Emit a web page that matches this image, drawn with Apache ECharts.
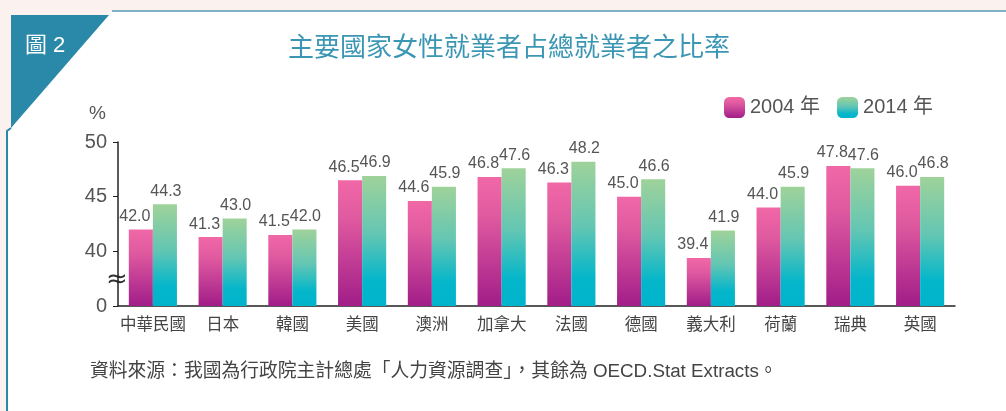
<!DOCTYPE html>
<html>
<head>
<meta charset="utf-8">
<script src="https://cdn.jsdelivr.net/npm/echarts@6/dist/echarts.min.js"></script>
<style>
  html, body { margin: 0; padding: 0; background: #fbf1ee; }
  #chart { width: 1006px; height: 411px; }
</style>
</head>
<body>
<div id="chart"></div>
<script>
const countries = ['中華民國', '日本', '韓國', '美國', '澳洲', '加拿大', '法國', '德國', '義大利', '荷蘭', '瑞典', '英國']
const rate2004 = [42.0, 41.3, 41.5, 46.5, 44.6, 46.8, 46.3, 45.0, 39.4, 44.0, 47.8, 46.0]
const rate2014 = [44.3, 43.0, 42.0, 46.9, 45.9, 47.6, 48.2, 46.6, 41.9, 45.9, 47.6, 46.8]
// 35 is drawn as the broken-axis "0"
const yTicks = [35, 40, 45, 50]
const yTickText = ['0', '40', '45', '50']

const latin = "'Liberation Sans', 'Noto Sans CJK TC', sans-serif"
const cjk = "'Noto Sans CJK TC', 'Liberation Sans', sans-serif"

const pink = new echarts.graphic.LinearGradient(0, 0, 0, 1, [
  { offset: 0, color: '#f168a7' },
  { offset: 0.3, color: '#e05aa0' },
  { offset: 1, color: '#a11d88' }
])
const green = new echarts.graphic.LinearGradient(0, 0, 0, 1, [
  { offset: 0, color: '#9fd29a' },
  { offset: 0.45, color: '#63c6b3' },
  { offset: 0.8, color: '#05b6ca' },
  { offset: 1, color: '#00b4cc' }
])

const chart = echarts.init(document.getElementById('chart'))

const valueLabel = {
  show: true,
  position: 'top',
  distance: 5,
  fontSize: 16,
  color: '#555',
  fontFamily: latin,
  formatter: p => p.value.toFixed(1)
}

const option = {
  animation: false,
  backgroundColor: '#fbf1ee',
  grid: { left: 118, right: 51, top: 142, bottom: 105 },
  legend: {
    left: 719,
    top: 92,
    itemWidth: 21,
    itemHeight: 21,
    itemGap: 17,
    itemStyle: { borderWidth: 0 },
    textStyle: { fontSize: 20, color: '#555', fontFamily: latin },
    data: ['2004 年', '2014 年']
  },
  xAxis: {
    type: 'category',
    data: countries,
    axisLine: { lineStyle: { color: '#222', width: 1.5 } },
    axisTick: { inside: true, length: 5, lineStyle: { color: '#222' } },
    axisLabel: { interval: 0, fontSize: 16.5, color: '#444', fontFamily: cjk, margin: 9 }
  },
  yAxis: {
    type: 'value',
    min: 35,
    max: 50,
    interval: 5,
    splitLine: { show: false },
    axisLine: { show: true, lineStyle: { color: '#222', width: 1.5 } },
    axisTick: { show: true, length: 5, lineStyle: { color: '#222' } },
    axisLabel: {
      fontSize: 20,
      color: '#555',
      fontFamily: latin,
      margin: 11,
      formatter: v => yTickText[yTicks.indexOf(v)]
    }
  },
  series: [
    {
      name: '2004 年',
      type: 'bar',
      data: rate2004,
      barGap: '0%',
      barCategoryGap: '31%',
      itemStyle: { color: pink },
      label: Object.assign({}, valueLabel, { offset: [-6, 0] })
    },
    {
      name: '2014 年',
      type: 'bar',
      data: rate2014,
      itemStyle: { color: green },
      label: Object.assign({}, valueLabel, { offset: [1, 0] })
    }
  ],
  graphic: [
    // card
    {
      type: 'polygon', z: -10, silent: true,
      shape: { points: [[112, 11], [1006, 11], [1006, 411], [7, 411], [7, 130]] },
      style: { fill: '#fff' }
    },
    {
      type: 'line', z: -9, silent: true,
      shape: { x1: 112, y1: 11, x2: 1006, y2: 11 },
      style: { stroke: '#7fb1c4', lineWidth: 2 }
    },
    {
      type: 'polyline', z: -9, silent: true,
      shape: { points: [[11, 128], [7, 131], [7, 411]] },
      style: { stroke: '#2a88a8', lineWidth: 2, fill: null }
    },
    {
      type: 'polygon', z: -8, silent: true,
      shape: { points: [[11, 15], [109, 15], [11, 128]] },
      style: { fill: '#2a88a8' }
    },
    {
      type: 'text', left: 25, top: 35,
      style: { text: '圖 2', fill: '#fff', fontSize: 22, fontFamily: latin }
    },
    {
      type: 'text', left: 288, top: 33,
      style: { text: '主要國家女性就業者占總就業者之比率', fill: '#3b96b3', fontSize: 26, fontFamily: cjk }
    },
    {
      type: 'text', left: 89, top: 104,
      style: { text: '%', fill: '#555', fontSize: 19, fontFamily: latin }
    },
    {
      type: 'text', left: 106, top: 267,
      style: { text: '≈', fill: '#333', fontSize: 26, fontFamily: "'DejaVu Sans', sans-serif" }
    },
    {
      type: 'text', left: 90, top: 362,
      style: {
        text: '資料來源：我國為行政院主計總處「人力資源調查」，其餘為 OECD.Stat Extracts。',
        fill: '#444', fontSize: 18.8, fontFamily: latin
      }
    }
  ]
}

chart.setOption(option)
</script>
</body>
</html>
